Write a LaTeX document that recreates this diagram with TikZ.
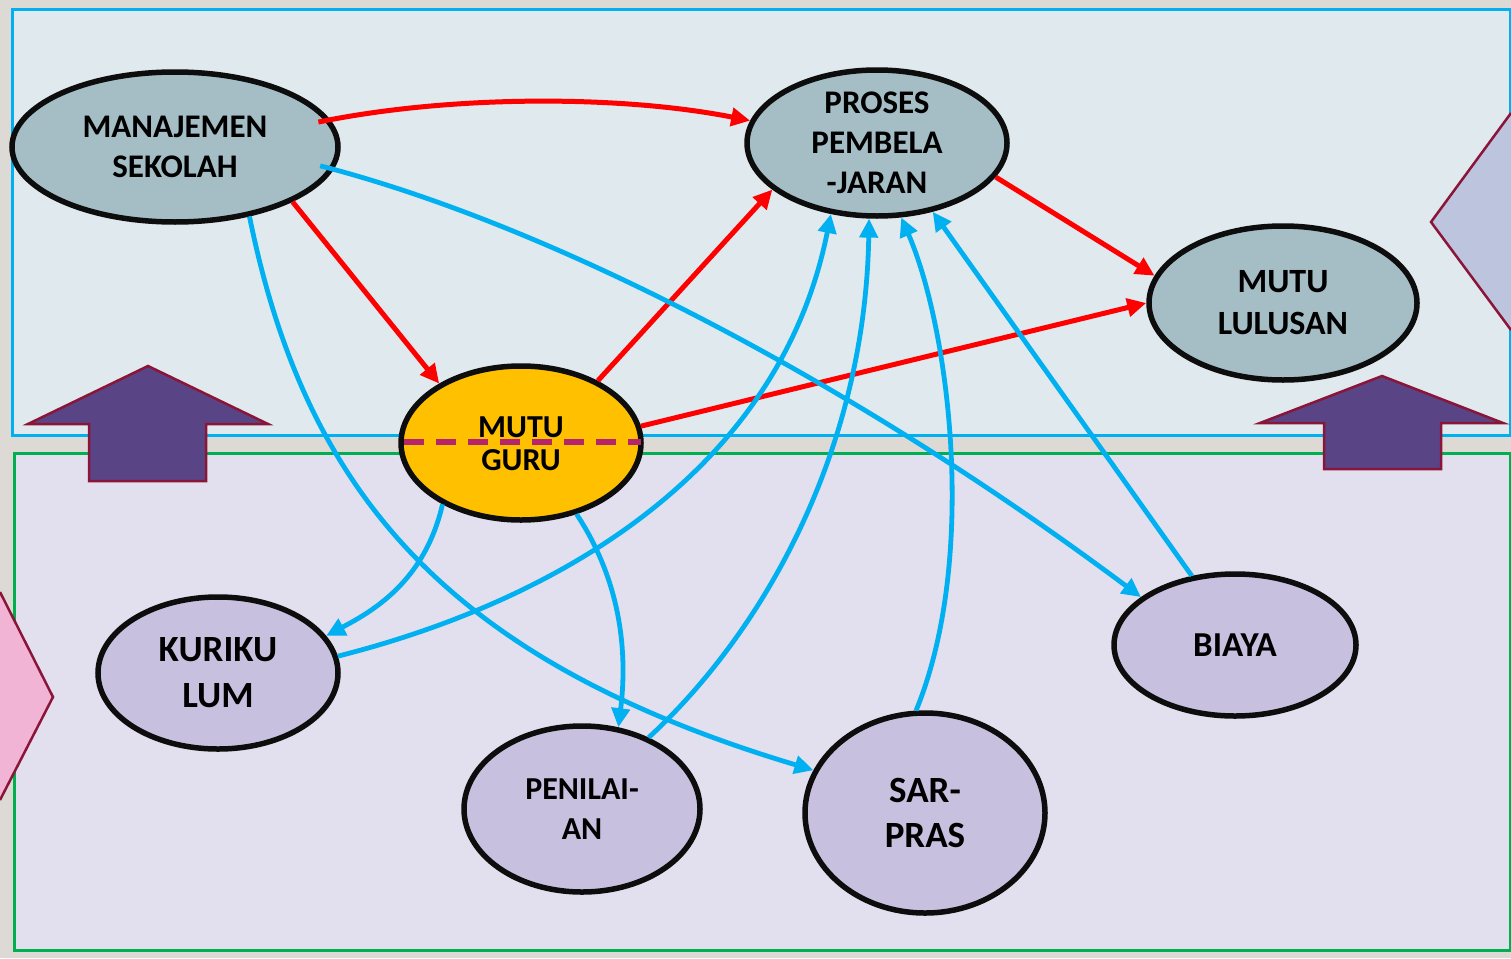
\documentclass[tikz,border=0pt]{standalone}
\usepackage{fontspec}
\setmainfont{Carlito}
\usetikzlibrary{arrows.meta,shapes.geometric}
\definecolor{bggray}{HTML}{DDDAD5}
\definecolor{topfill}{HTML}{E0E9ED}
\definecolor{cyanb}{HTML}{00B0F0}
\definecolor{botfill}{HTML}{E2DFEE}
\definecolor{greenb}{HTML}{00B050}
\definecolor{topell}{HTML}{A5BEC6}
\definecolor{botell}{HTML}{C8C0DF}
\definecolor{gold}{HTML}{FFC000}
\definecolor{blockpurple}{HTML}{594485}
\definecolor{blockedge}{HTML}{8B1538}
\definecolor{pinkshape}{HTML}{F2B4D4}
\definecolor{diamondfill}{HTML}{BCC4DE}
\definecolor{dashmag}{HTML}{B5256B}
\definecolor{redarr}{HTML}{FF0000}
\tikzset{
  ell/.style={ellipse, draw=black!95, line width=5.5pt, inner sep=0pt},
  ellt/.style={ell, fill=topell},
  ellb/.style={ell, fill=botell},
  lbl/.style 2 args={align=center, font=\bfseries\fontsize{#1}{#2}\selectfont},
  redc/.style={draw=redarr, line width=5pt, -{Triangle[length=19pt,width=18pt]}},
  bluec/.style={draw=cyanb, line width=4.8pt, -{Triangle[length=19pt,width=18pt]}},
  blockarrow/.style={fill=blockpurple, draw=blockedge, line width=2.5pt, line join=miter},
}
\begin{document}
\begin{tikzpicture}[x=1pt,y=-1pt]
\useasboundingbox (0,0) rectangle (1511,958);
\fill[bggray] (0,0) rectangle (1511,958);
% panels
\draw[fill=topfill, draw=cyanb, line width=3pt] (12,10) rectangle (1510,435);
\draw[fill=botfill, draw=greenb, line width=3pt] (14,453) rectangle (1510,950);
% side shapes
\fill[pinkshape] (0,592) -- (53,697) -- (0,800) -- cycle;
\draw[blockedge, line width=2.5pt] (0,592) -- (53,697) -- (0,800);
\fill[diamondfill] (1511,113) -- (1431,222) -- (1511,330) -- cycle;
\draw[blockedge, line width=2.5pt] (1511,113) -- (1431,222) -- (1511,330);
% block arrows
\draw[blockarrow] (148,366) -- (268,424) -- (206,424) -- (206,481) -- (89,481) -- (89,424) -- (28,424) -- cycle;
\draw[blockarrow] (1382,376) -- (1503,423) -- (1441,423) -- (1441,469) -- (1324,469) -- (1324,423) -- (1260,423) -- cycle;
% nodes
\node[ellt, minimum width=326pt, minimum height=150pt, label={[lbl={33}{40}]center:MANAJEMEN\\SEKOLAH}] (ms) at (175,147) {};
\node[ellt, minimum width=260pt, minimum height=146pt, label={[lbl={33}{40}]center:PROSES\\PEMBELA\\-JARAN}] (pr) at (877,143) {};
\node[ellt, minimum width=268pt, minimum height=154pt, label={[lbl={34}{42}]center:MUTU\\LULUSAN}] (ml) at (1283,303) {};
\node[ell, fill=gold, minimum width=240pt, minimum height=154pt] (mg) at (521,443) {};
\node[ellb, minimum width=240pt, minimum height=152pt, label={[lbl={37}{46}]center:KURIKU\\LUM}] (ku) at (218,673) {};
\node[ellb, minimum width=236pt, minimum height=166pt, label={[lbl={32}{40}]center:PENILAI-\\AN}] (pe) at (582,809) {};
\node[ellb, minimum width=240pt, minimum height=200pt, label={[lbl={37}{45}]center:SAR-\\PRAS}] (sp) at (925,813) {};
\node[ellb, minimum width=242pt, minimum height=142pt, label={[lbl={35}{42}]center:BIAYA}] (bi) at (1235,645) {};
% dashed line over MUTU GURU
\coordinate (dl) at (404,442);
\coordinate (dr) at (641,442);
\draw[dashmag, line width=6pt, dash pattern=on 20pt off 12pt] (dl) -- (dr);
\node[lbl={32}{33}] (mgt) at (521,444) {MUTU\\GURU};
% red connectors
\draw[redc, shorten <=-12pt] (ms.10) .. controls (450,95) and (620,95) .. (pr.170.7);
\draw[redc] (ms.-25.6) -- (mg.144.4);
\draw[redc] (mg.39.9) -- (pr.204.3);
\draw[redc] (pr.-16.2) -- (ml.168.8);
\draw[redc] (mg.8.5) -- (ml.180.8);
% blue connectors
\draw[bluec, shorten <=-14pt] (ms.-8.5) .. controls (550,225) and (850,380) .. (bi.153.7);
\draw[bluec] (ms.-43) .. controls (305,490) and (445,660) .. (sp.159.2);
\draw[bluec] (mg.218.6) .. controls (425,580) and (375,610) .. (ku.19.5);
\draw[bluec] (ku.8.3) .. controls (560,600) and (780,470) .. (pr.-123.5);
\draw[bluec] (mg.-52.5) .. controls (620,580) and (628,650) .. (pe.66);
\draw[bluec] (pe.47) .. controls (765,630) and (865,450) .. (pr.-96.7);
\draw[bluec] (sp.95.9) .. controls (978,560) and (950,330) .. (pr.-72);
\draw[bluec] (bi.122.4) -- (pr.-51.7);
\end{tikzpicture}
\end{document}
